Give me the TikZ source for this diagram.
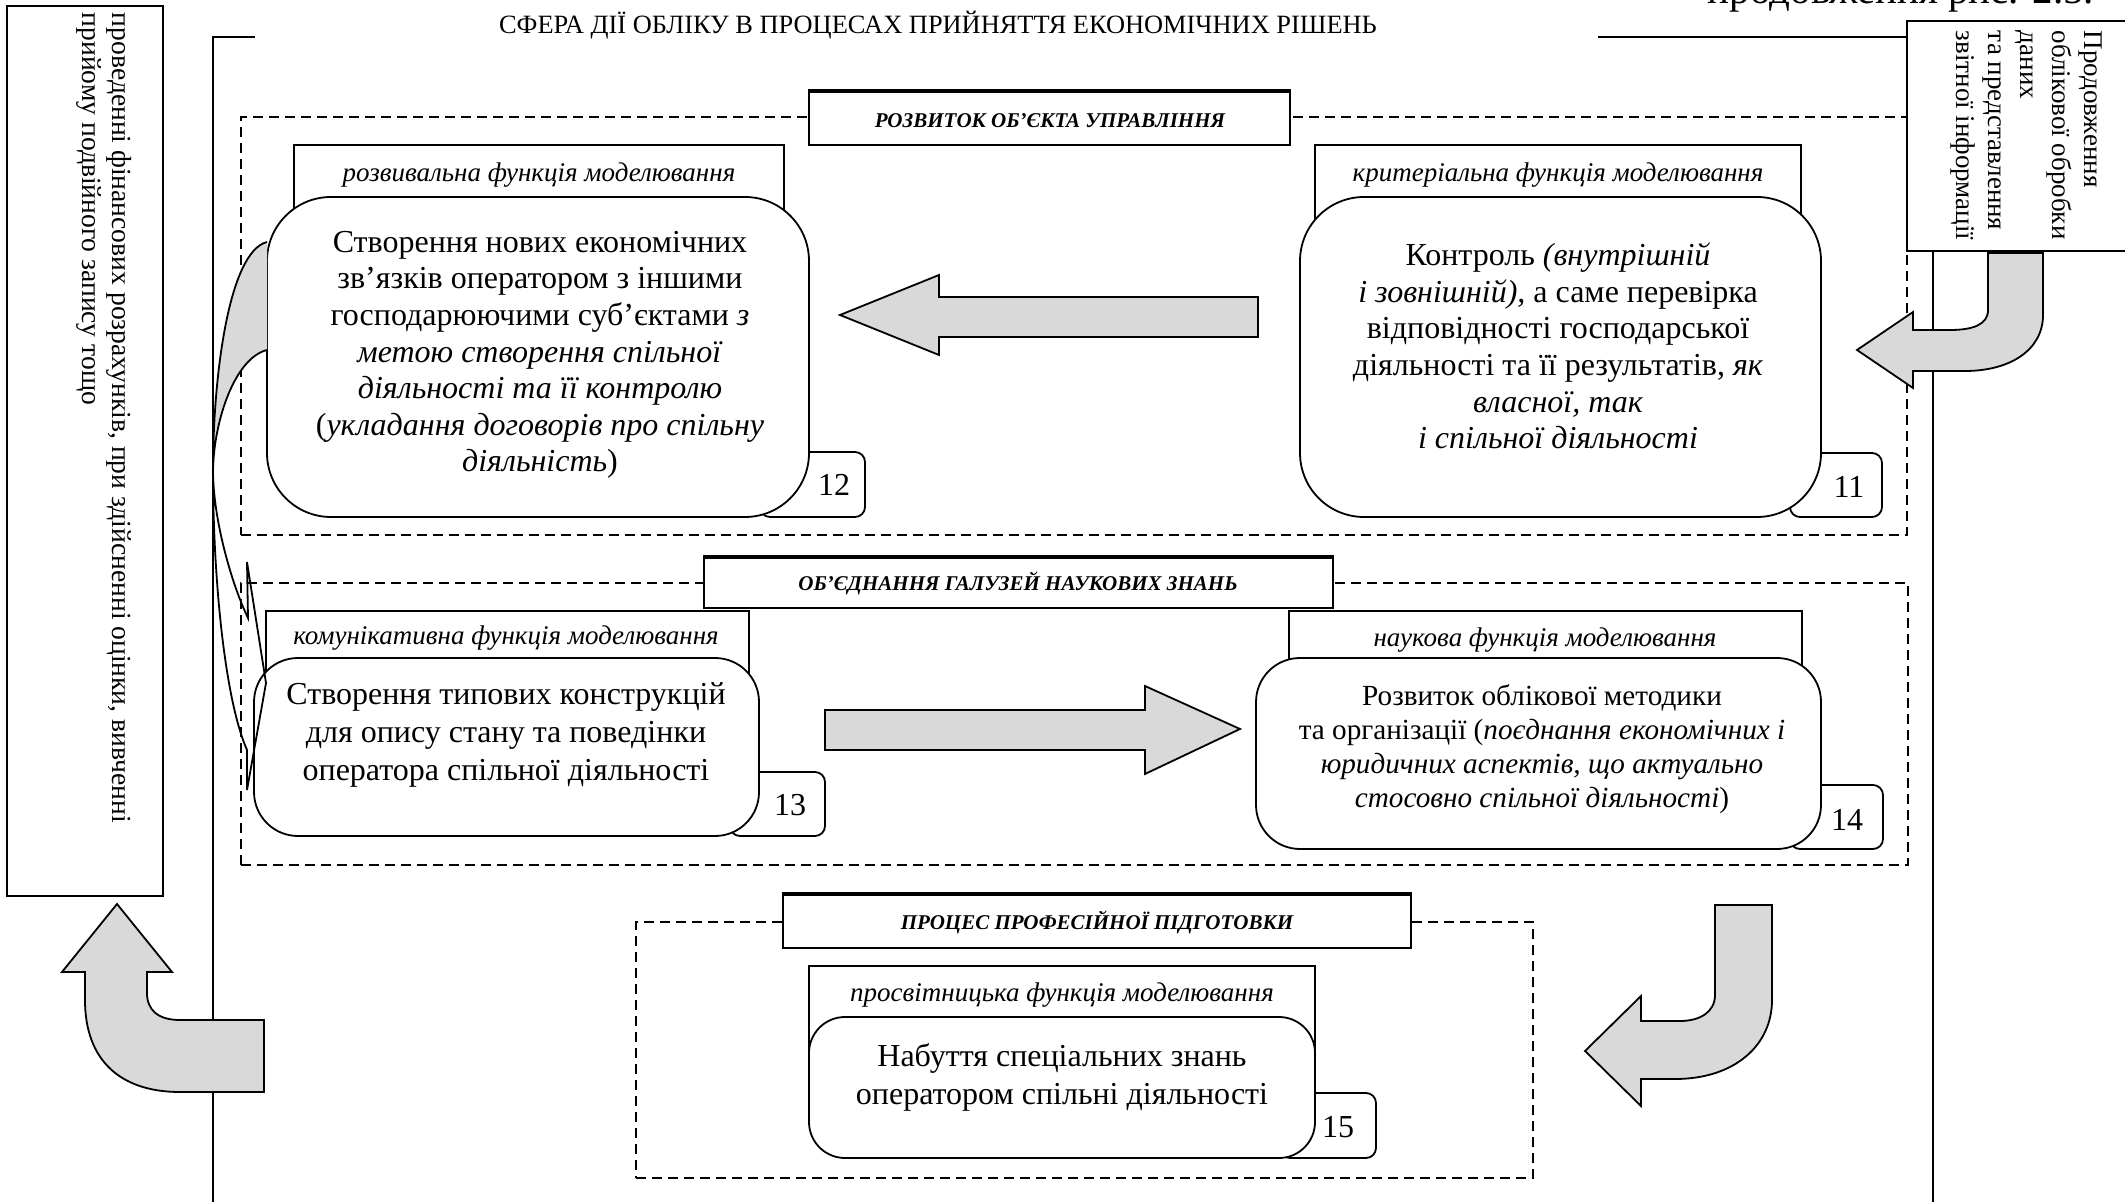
\documentclass[tikz,border=0pt]{standalone}
\usepackage{fontspec}
\setmainfont{Liberation Serif}
\usetikzlibrary{fit}
\definecolor{agray}{RGB}{217,217,217}
\begin{document}
\begin{tikzpicture}[x=0.5pt,y=-0.5pt,
  line width=0.9pt,
  lblbox/.style={draw, fill=white, inner sep=0pt},
  bigbox/.style={draw, fill=white, inner sep=0pt},
  numbox/.style={draw, fill=white, rounded corners=5pt, inner sep=0pt},
  ttlbox/.style={draw, fill=white, inner sep=0pt},
  contbox/.style={draw, dash pattern=on 5pt off 3pt, line width=0.8pt, inner sep=0pt},
  garrow/.style={draw, fill=agray, line width=0.9pt, line join=miter},
  lbltext/.style={font=\fontsize{13.5}{16}\selectfont\itshape, inner sep=0pt},
  ttltext/.style={font=\fontsize{10.5}{12}\selectfont\bfseries\itshape, inner sep=0pt},
  numtext/.style={font=\fontsize{16}{18}\selectfont, inner sep=0pt},
  bodytext/.style={align=center, inner sep=0pt},
  sidetext/.style={rotate=-90, anchor=north west, align=left, inner sep=0pt},
]
\useasboundingbox (0,0) rectangle (2125,1202);

% top-right fragment of caption (cut by the page edge, as in the reference)
\node[anchor=base west, inner sep=0pt, font=\fontsize{20.5}{22}\selectfont] (cont) at (1707,4) {продовження рис. 2.5.};

% outer frame
\coordinate (fl0) at (213,1202);
\coordinate (fl1) at (213,37);
\coordinate (fl2) at (255,37);
\coordinate (fr0) at (1598,37);
\coordinate (fr1) at (1907,37);
\coordinate (frv0) at (1933,251);
\coordinate (frv1) at (1933,1202);
\draw[line width=1.1pt] (fl0) -- (fl1) -- (fl2);
\draw[line width=1.1pt] (fr0) -- (fr1);
\draw[line width=1.1pt] (frv0) -- (frv1);
\node[inner sep=0pt, font=\fontsize{13.2}{15}\selectfont] (title) at (938,25) {СФЕРА ДІЇ ОБЛІКУ В ПРОЦЕСАХ ПРИЙНЯТТЯ ЕКОНОМІЧНИХ РІШЕНЬ};

% left box
\node[draw, fit={(7,6) (163,896)}, inner sep=0pt, line width=1pt] (lbox) {};
\node[sidetext, font=\fontsize{13.8}{15}\selectfont] (ltext) at (133,12)
  {проведенні фінансових розрахунків, при здійсненні оцінки, вивченні\\прийому подвійного запису тощо};

% right box (cut by the page edge)
\coordinate (rb0) at (2125,21);
\coordinate (rb1) at (1907,21);
\coordinate (rb2) at (1907,251);
\coordinate (rb3) at (2125,251);
\draw[line width=1pt] (rb0) -- (rb1) -- (rb2) -- (rb3);
\node[sidetext, font=\fontsize{13.5}{16}\selectfont] (rtext) at (2103,30)
  {Продовження\\облікової обробки\\даних\\та представлення\\звітної інформації};

% dashed containers
\node[contbox, fit={(241,117) (1907,535)}] (c1) {};
\node[contbox, fit={(241,583) (1908,865)}] (c2) {};
\node[contbox, fit={(636,922) (1533,1178)}] (c3) {};

% title boxes
\node[ttlbox, fit={(809,92) (1290,145)}] (t1) {};
\draw[line width=1.8pt] (t1.north west) -- (t1.north east);
\node[ttltext] (t1x) at (1050,121) {РОЗВИТОК ОБ’ЄКТА УПРАВЛІННЯ};
\node[ttlbox, fit={(704,558) (1333,608)}] (t2) {};
\draw[line width=1.8pt] (t2.north west) -- (t2.north east);
\node[ttltext] (t2x) at (1018,583) {ОБ’ЄДНАННЯ ГАЛУЗЕЙ НАУКОВИХ ЗНАНЬ};
\node[ttlbox, fit={(783,895) (1411,948)}] (t3) {};
\draw[line width=1.8pt] (t3.north west) -- (t3.north east);
\node[ttltext] (t3x) at (1097,922) {ПРОЦЕС ПРОФЕСІЙНОЇ ПІДГОТОВКИ};

% ---- block 12
\node[lblbox, fit={(294,145) (784,240)}] (l12) {};
\node[lbltext] (l12x) at (539,175) {розвивальна функція моделювання};
\node[numbox, fit={(760,452) (865,517)}] (n12) {};
\node[numtext] (n12x) at (834,485) {12};
\node[bigbox, rounded corners=32pt, fit={(267,197) (809,517)}] (b12) {};
\node[bodytext, font=\fontsize{16}{18.3}\selectfont] (b12x) at (540,355)
  {Створення нових економічних\\зв’язків оператором з іншими\\господарюючими суб’єктами \textit{з}\\\textit{метою створення спільної}\\\textit{діяльності та її контролю}\\(\textit{укладання договорів про спільну}\\\textit{діяльність})};

% ---- block 11
\node[lblbox, fit={(1315,145) (1801,240)}] (l11) {};
\node[lbltext] (l11x) at (1558,175) {критеріальна функція моделювання};
\node[numbox, fit={(1790,453) (1882,517)}] (n11) {};
\node[numtext] (n11x) at (1849,487) {11};
\node[bigbox, rounded corners=32pt, fit={(1300,197) (1821,517)}] (b11) {};
\node[bodytext, font=\fontsize{16}{18.3}\selectfont] (b11x) at (1558,346)
  {Контроль \textit{(внутрішній}\\\textit{і зовнішній),} а саме перевірка\\відповідності господарської\\діяльності та її результатів, \textit{як}\\\textit{власної, так}\\\textit{і спільної діяльності}};

% ---- block 13
\node[lblbox, fit={(266,611) (749,700)}] (l13) {};
\node[lbltext] (l13x) at (506,638) {комунікативна функція моделювання};
\node[numbox, fit={(730,772) (825,836)}] (n13) {};
\node[numtext] (n13x) at (790,805) {13};
\node[bigbox, rounded corners=22pt, fit={(254,658) (759,836)}] (b13) {};
\node[bodytext, font=\fontsize{16}{18.8}\selectfont] (b13x) at (506,735)
  {Створення типових конструкцій\\для опису стану та поведінки\\оператора спільної діяльності};

% ---- block 14
\node[lblbox, fit={(1289,611) (1802,700)}] (l14) {};
\node[lbltext] (l14x) at (1545,640) {наукова функція моделювання};
\node[numbox, fit={(1790,785) (1883,849)}] (n14) {};
\node[numtext] (n14x) at (1847,820) {14};
\node[bigbox, rounded corners=22pt, fit={(1256,658) (1821,849)}] (b14) {};
\node[bodytext, font=\fontsize{14.6}{17}\selectfont] (b14x) at (1542,749)
  {Розвиток облікової методики\\та організації (\textit{поєднання економічних і}\\\textit{юридичних аспектів, що актуально}\\\textit{стосовно спільної діяльності})};

% ---- block 15
\node[lblbox, fit={(809,966) (1315,1050)}] (l15) {};
\node[lbltext] (l15x) at (1062,995) {просвітницька функція моделювання};
\node[numbox, fit={(1280,1093) (1376,1158)}] (n15) {};
\node[numtext] (n15x) at (1338,1127) {15};
\node[bigbox, rounded corners=18pt, fit={(809,1017) (1315,1158)}] (b15) {};
\node[bodytext, font=\fontsize{16}{19}\selectfont] (b15x) at (1062,1077)
  {Набуття спеціальних знань\\оператором спільні діяльності};

% ---- block arrows
\draw[garrow] (840,315) -- (939,275) -- (939,297) -- (1258,297) -- (1258,337) -- (939,337) -- (939,355) -- cycle;
\draw[garrow] (1240,729) -- (1145,686) -- (1145,710) -- (825,710) -- (825,750) -- (1145,750) -- (1145,774) -- cycle;

% right curved arrow into block 11
\draw[garrow] (1988,253) -- (1988,310) .. controls (1988,325) and (1972,330) .. (1950,330) -- (1913,330) -- (1913,312) -- (1857,350) -- (1913,388) -- (1913,371) -- (1965,371) .. controls (2010,371) and (2043,350) .. (2043,315) -- (2043,253) -- cycle;

% bottom-right curved arrow towards block 15
\draw[garrow] (1715,905) -- (1715,995) .. controls (1715,1012) and (1700,1021) .. (1680,1021) -- (1641,1021) -- (1641,996) -- (1585,1051) -- (1641,1106) -- (1641,1079) -- (1675,1079) .. controls (1735,1079) and (1772,1045) .. (1772,1000) -- (1772,905) -- cycle;

% bottom-left arrow up into left box
\draw[garrow] (117,904) -- (172,972) -- (147,972) -- (147,993) .. controls (147,1010) and (158,1020) .. (180,1020) -- (264,1020) -- (264,1092) -- (180,1092) .. controls (120,1092) and (85,1060) .. (85,1000) -- (85,972) -- (62,972) -- cycle;

% left curved arrow from block 12 to block 13
\fill[agray] (267,242) .. controls (228,252) and (213,380) .. (213,470) .. controls (214,420) and (235,358) .. (267,350) -- cycle;
\draw[line join=miter] (267,242) .. controls (228,252) and (213,380) .. (213,470) .. controls (213,580) and (225,700) .. (247,750) -- (247,790) -- (266,683) -- (247,562) -- (248,618) .. controls (232,585) and (213,520) .. (213,470) .. controls (214,420) and (235,358) .. (267,350);
\end{tikzpicture}
\end{document}
